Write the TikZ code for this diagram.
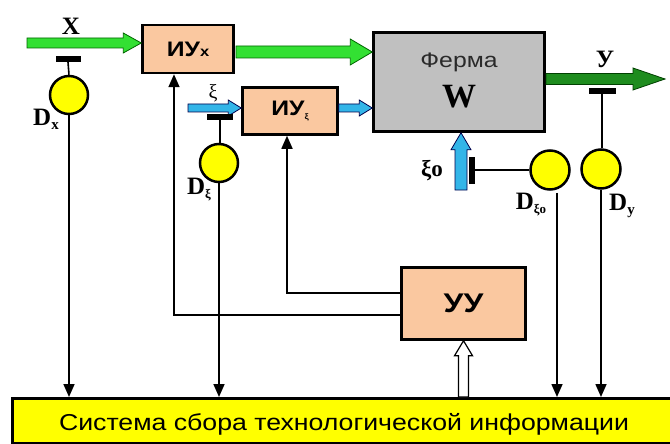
\documentclass[tikz,border=0pt]{standalone}
\usepackage{fontspec}
\setmainfont{Liberation Serif}
\setsansfont{Liberation Sans}
\usetikzlibrary{arrows.meta,calc}
\definecolor{peach}{HTML}{FAC8A0}
\definecolor{wgray}{HTML}{C0C0C0}
\definecolor{lgreen}{HTML}{33E033}
\definecolor{dgreen}{HTML}{1E8C1E}
\definecolor{cyanb}{HTML}{33B5E8}
\definecolor{yel}{HTML}{FFFF00}
\definecolor{txtgray}{HTML}{2A2A2A}
% horizontal fat arrow: style, from, to, half shaft, half head, head length
\newcommand{\fatH}[6]{\draw[#1] ($(#2)+(0,#4)$) -- ($(#3)+(-#6,#4)$) -- ($(#3)+(-#6,#5)$) -- (#3) -- ($(#3)+(-#6,-#5)$) -- ($(#3)+(-#6,-#4)$) -- ($(#2)+(0,-#4)$) -- cycle;}
% vertical (upward) fat arrow
\newcommand{\fatV}[6]{\draw[#1] ($(#2)+(#4,0)$) -- ($(#3)+(#4,#6)$) -- ($(#3)+(#5,#6)$) -- (#3) -- ($(#3)+(-#5,#6)$) -- ($(#3)+(-#4,#6)$) -- ($(#2)+(-#4,0)$) -- cycle;}
\newcommand{\lowsub}[2]{\raisebox{-0.35ex}{\fontsize{#1}{#1}\selectfont #2}}
\newcommand{\wide}[1]{\scalebox{1.18}[1]{#1}}
\begin{document}
\begin{tikzpicture}[x=1pt,y=-1pt,
  box/.style={draw=black,line width=2.5pt,fill=peach,inner sep=0pt},
  sensor/.style={circle,draw=black,line width=2.5pt,fill=yel,minimum size=38pt,inner sep=0pt},
  bar/.style={rectangle,fill=black,inner sep=0pt},
  line/.style={draw=black,line width=1.6pt},
  sig/.style={line,-{Triangle[length=13pt,width=11pt]}},
  garrow/.style={fill=lgreen,draw=green!40!black,line width=0.8pt},
  darrow/.style={fill=dgreen,draw=green!25!black,line width=0.8pt},
  barrow/.style={fill=cyanb,draw=blue!30!black,line width=0.8pt},
  harrow/.style={fill=white,draw=black,line width=1.2pt},
  serlbl/.style={font=\bfseries\fontsize{25}{25}\selectfont,inner sep=0pt}
]
\useasboundingbox (0,0) rectangle (670,444);
\fill[white] (0,0) rectangle (670,444);

% blocks
\node[box,minimum width=91pt,minimum height=48pt] (iux) at (188,49)
  {\wide{\sffamily\bfseries\fontsize{21}{21}\selectfont ИУ\fontsize{14}{14}\selectfont x}};
\node[box,minimum width=95pt,minimum height=47pt] (ius) at (290,111)
  {\wide{\sffamily\bfseries\fontsize{21}{21}\selectfont ИУ\lowsub{8}{ξ}}};
\node[draw=black,line width=2.5pt,fill=wgray,minimum width=171pt,minimum height=99pt,inner sep=0pt] (w) at (459,82) {};
\node[font=\sffamily\fontsize{21}{21}\selectfont,text=txtgray,inner sep=0pt] (ferma) at (459,62) {\wide{Ферма}};
\node[font=\bfseries\fontsize{34}{34}\selectfont,inner sep=0pt] (wl) at (459,97) {W};
\node[box,minimum width=124pt,minimum height=72pt] (uu) at (463.5,303.5)
  {\wide{\sffamily\bfseries\fontsize{27}{27}\selectfont УУ}};
\node[draw=black,line width=2.5pt,fill=yel,minimum width=679pt,minimum height=45pt,inner sep=0pt,anchor=north west] (sys) at (11,397) {};
\node[font=\sffamily\fontsize{23}{23}\selectfont,inner sep=0pt] (systxt) at (344,424)
  {\scalebox{1.16}[1]{Система сбора технологической информации}};

% coordinates for fat arrows
\coordinate (xs) at (27,43);
\coordinate (xe) at (iux.west |- xs);
\coordinate (ms) at (236,52);
\coordinate (me) at (w.west |- ms);
\coordinate (ys) at (546,79);
\coordinate (ye) at (665,79);
\coordinate (ks) at (188,108);
\coordinate (ke) at (ius.west |- ks);
\coordinate (bs) at (ius.east |- ks);
\coordinate (be) at (w.west |- ks);
\coordinate (zs) at (461,190);
\coordinate (ze) at (w.south -| zs);
\coordinate (hs) at (uu.south |- sys.north);
\coordinate (he) at (uu.south);

\fatH{garrow}{xs}{xe}{5}{10}{18}
\fatH{garrow}{ms}{me}{6}{13}{22}
\fatH{darrow}{ys}{ye}{5.5}{11}{32}
\fatH{barrow}{ks}{ke}{4}{8}{13}
\fatH{barrow}{bs}{be}{4}{8}{13}
\fatV{barrow}{zs}{ze}{6}{10}{17}
\fatV{harrow}{hs}{he}{5}{9}{15}

% sensors
\node[bar,minimum width=25pt,minimum height=6pt] (dxb) at (68,59) {};
\node[sensor] (dx) at (69,95) {};
\node[bar,minimum width=26pt,minimum height=6pt] (dkb) at (220,117) {};
\node[sensor] (dk) at (219,163) {};
\node[bar,minimum width=27pt,minimum height=6pt] (dyb) at (602,91) {};
\node[sensor,minimum size=39pt] (dy) at (601,169) {};
\node[bar,minimum width=6pt,minimum height=27pt] (dzb) at (472,170) {};
\node[sensor,minimum size=39pt] (dz) at (550,170) {};

\draw[line] (dxb.south) -- (dx.north);
\draw[sig] (dx.south) -- (dx.south |- sys.north);
\draw[line] (dkb.south) -- (dkb.south |- dk.north);
\draw[sig] (dk.south) -- (dk.south |- sys.north);
\draw[line] (dyb.south) -- (dyb.south |- dy.north);
\draw[sig] (dy.south) -- (dy.south |- sys.north);
\draw[line] (dz.west) -- (dzb.east);
\coordinate (dzo) at ($(dz.south)+(7,2)$);
\draw[sig] (dzo) -- (dzo |- sys.north);

% control lines
\coordinate (k1) at (174,315);
\draw[sig] (uu.west |- k1) -- (k1) -- (k1 |- iux.south);
\coordinate (k2) at (287,293);
\draw[sig] (uu.west |- k2) -- (k2) -- (k2 |- ius.south);

% labels
\node[serlbl] (lx) at (71,26) {X};
\node[serlbl] (ly) at (605,59) {У};
\node[font=\fontsize{20}{20}\selectfont,inner sep=0pt] (lk) at (213,93) {ξ};
\node[serlbl,font=\bfseries\fontsize{23}{23}\selectfont] (lz) at (432,171) {ξo};
\node[serlbl] (ldx) at (46,119) {D\lowsub{15}{x}};
\node[serlbl] (ldk) at (199,190) {D\lowsub{13}{ξ}};
\node[serlbl] (ldz) at (531,205) {D\lowsub{13}{ξo}};
\node[serlbl] (ldy) at (622,206) {D\lowsub{15}{y}};
\end{tikzpicture}
\end{document}
